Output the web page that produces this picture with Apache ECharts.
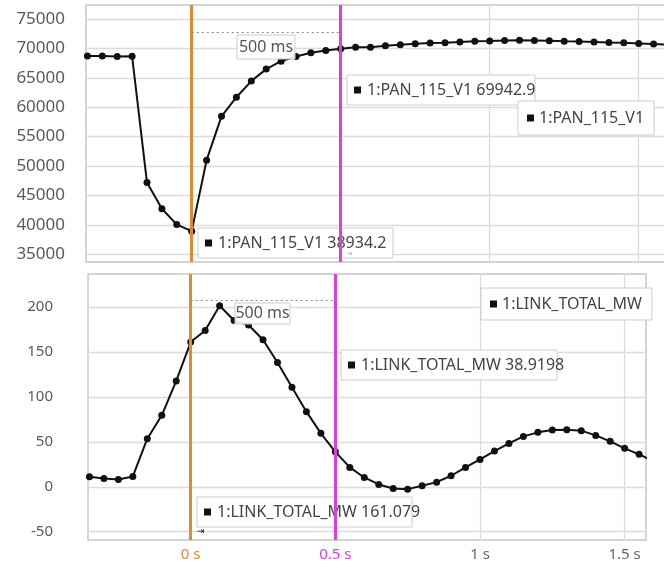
<!DOCTYPE html>
<html>
<head>
<meta charset="utf-8">
<script src="https://cdn.jsdelivr.net/npm/echarts@6/dist/echarts.min.js"></script>
<style>
  html, body { margin: 0; padding: 0; background: #fff; }
  #chart { width: 664px; height: 563px; }
</style>
</head>
<body>
<div id="chart"></div>
<script>
// Sample times (s), one sample every 50 ms
const times = [-0.35, -0.30, -0.25, -0.20, -0.15, -0.10, -0.05, 0.00,
  0.05, 0.10, 0.15, 0.20, 0.25, 0.30, 0.35, 0.40, 0.45, 0.50,
  0.55, 0.60, 0.65, 0.70, 0.75, 0.80, 0.85, 0.90, 0.95, 1.00,
  1.05, 1.10, 1.15, 1.20, 1.25, 1.30, 1.35, 1.40, 1.45, 1.50, 1.55, 1.60];

// 1:PAN_115_V1 voltage
const panValues = [68700, 68700, 68620, 68650, 47200, 42750, 40050, 38934.2,
  51000, 58450, 61700, 64450, 66480, 67820, 68640, 69270, 69660, 69942.9,
  70200, 70200, 70440, 70610, 70780, 70900, 70980, 71100, 71230, 71260,
  71350, 71370, 71360, 71300, 71200, 71170, 71110, 71020, 70950, 70850, 70730, 70620];

// 1:LINK_TOTAL_MW power
const linkValues = [11.2, 9.3, 8.2, 11.5, 53.5, 79.6, 117.8, 161.079,
  174, 201.5, 185, 180, 163.6, 138.3, 110.8, 83.6, 59.5, 38.9198,
  21.6, 10.4, 2.6, -1.9, -2.6, 1.1, 5.2, 12.3, 21.6, 30.5,
  39.8, 48.3, 56.1, 60.6, 63.2, 63.6, 62.5, 57.2, 50.6, 42.8, 36.1, 28.5];

const panName = '1:PAN_115_V1';
const linkName = '1:LINK_TOTAL_MW';

// Tick labels
const timeTicks = [0, 0.5, 1, 1.5];
const panTicks = [35000, 40000, 45000, 50000, 55000, 60000, 65000, 70000, 75000];
const linkTicks = [-50, 0, 50, 100, 150, 200];

// Cursor positions (s) and the level of the delta bracket in each pane
const cursorTimes = [0, 0.5];
const panBracketLevel = 72740;
const linkBracketLevel = 207.4;

const FONT = '"Noto Sans", "Open Sans", sans-serif';
const GRID_LINE = '#dcdcdc';
const BORDER = '#c8c8c8';
const ORANGE = '#E08A33';
const MAGENTA = '#E03CE0';
const INK = '#111';

const chart = echarts.init(document.getElementById('chart'), null, { renderer: 'canvas' });

const idxA = times.indexOf(cursorTimes[0]);
const idxB = times.indexOf(cursorTimes[1]);
const deltaMs = Math.round((cursorTimes[1] - cursorTimes[0]) * 1000) + ' ms';

function cursorMarks(level) {
  return {
    silent: true,
    symbol: ['none', 'none'],
    label: { show: false },
    emphasis: { disabled: true },
    data: [
      { xAxis: cursorTimes[0], lineStyle: { color: ORANGE, width: 3, type: 'solid' } },
      { xAxis: cursorTimes[1], lineStyle: { color: MAGENTA, width: 3, type: 'solid' } },
      [
        { coord: [cursorTimes[0], level], lineStyle: { color: '#8a8a8a', width: 1.2, type: [2, 3] } },
        { coord: [cursorTimes[1], level] }
      ]
    ]
  };
}

// Cursor readout box: sits above the grid but below the cursor lines
function valueBox(x, y, w, h, text) {
  return {
    type: 'group', x: x, y: y, z: 1,
    children: [
      { type: 'rect', z: 1, shape: { x: 0, y: 0, width: w, height: h },
        style: { fill: '#fff', stroke: '#cdcdcd', lineWidth: 1 } },
      { type: 'rect', z: 1, shape: { x: 7, y: h / 2 - 3.5, width: 7, height: 7 },
        style: { fill: INK } },
      { type: 'text', z: 1, x: 20, y: h / 2,
        style: { text: text, fill: '#444', font: '16px ' + FONT, verticalAlign: 'middle' } }
    ]
  };
}

function deltaBox(x, y, w, h) {
  return {
    type: 'group', x: x, y: y, z: 50,
    children: [
      { type: 'rect', z: 50, shape: { x: 0, y: 0, width: w, height: h },
        style: { fill: 'rgba(255,255,255,0.9)', stroke: '#cdcdcd', lineWidth: 1 } },
      { type: 'text', z: 50, x: w / 2, y: h / 2,
        style: { text: deltaMs, fill: '#555', font: '16px ' + FONT, align: 'center', verticalAlign: 'middle' } }
    ]
  };
}

const legendBase = {
  orient: 'horizontal',
  icon: 'rect',
  itemWidth: 7,
  itemHeight: 7,
  backgroundColor: '#fff',
  borderColor: '#cdcdcd',
  borderWidth: 1,
  borderRadius: 0,
  selectedMode: false,
  textStyle: { fontSize: 16, color: '#444', fontFamily: FONT }
};

const timeLabel = {
  customValues: timeTicks,
  margin: 7,
  formatter: function (v) {
    if (v === cursorTimes[0]) return '{o|' + v + ' s}';
    if (v === cursorTimes[1]) return '{m|' + v + ' s}';
    return '{g|' + v + ' s}';
  },
  rich: {
    o: { color: ORANGE, fontSize: 15, fontFamily: FONT },
    m: { color: MAGENTA, fontSize: 15, fontFamily: FONT },
    g: { color: '#666', fontSize: 15, fontFamily: FONT }
  }
};

const plainNumber = function (v) { return String(v); };

const option = {
  animation: false,
  backgroundColor: '#fff',
  textStyle: { fontFamily: FONT },
  grid: [
    { left: 86, top: 5, width: 580, height: 257, show: true, borderColor: BORDER, borderWidth: 1.5, outerBoundsMode: 'none' },
    { left: 88, top: 274, width: 558, height: 266, show: true, borderColor: BORDER, borderWidth: 1.5, outerBoundsMode: 'none' }
  ],
  xAxis: [
    { gridIndex: 0, type: 'value', min: -0.3547, max: 1.5916,
      axisLine: { show: false }, axisTick: { show: false, customValues: timeTicks },
      axisLabel: { show: false, customValues: timeTicks },
      splitLine: { show: true, lineStyle: { color: GRID_LINE, width: 1.3 } } },
    { gridIndex: 1, type: 'value', min: -0.355, max: 1.5738,
      axisLine: { show: false }, axisTick: { show: false, customValues: timeTicks },
      axisLabel: timeLabel,
      splitLine: { show: true, lineStyle: { color: GRID_LINE, width: 1.3 } } }
  ],
  yAxis: [
    { gridIndex: 0, type: 'value', min: 33690, max: 77380,
      axisLine: { show: false }, axisTick: { show: false, customValues: panTicks },
      axisLabel: { customValues: panTicks, formatter: plainNumber, margin: 21, fontSize: 17, color: '#5a5a5a', fontFamily: FONT },
      splitLine: { show: true, lineStyle: { color: GRID_LINE, width: 1.3 } } },
    { gridIndex: 1, type: 'value', min: -59.2, max: 236.8,
      axisLine: { show: false }, axisTick: { show: false, customValues: linkTicks },
      axisLabel: { customValues: linkTicks, formatter: plainNumber, margin: 35, fontSize: 15, color: '#5a5a5a', fontFamily: FONT },
      splitLine: { show: true, lineStyle: { color: GRID_LINE, width: 1.3 } } }
  ],
  legend: [
    Object.assign({}, legendBase, { data: [panName], left: 518, top: 101, padding: [9, 10, 9, 9] }),
    Object.assign({}, legendBase, { data: [linkName], left: 481, top: 288, padding: [8, 10, 8, 9] })
  ],
  series: [
    { type: 'line', name: panName, xAxisIndex: 0, yAxisIndex: 0,
      data: times.map((t, i) => [t, panValues[i]]),
      symbol: 'circle', symbolSize: 7, color: INK,
      lineStyle: { color: INK, width: 2 }, itemStyle: { color: INK },
      emphasis: { disabled: true }, clip: true,
      markLine: cursorMarks(panBracketLevel) },
    { type: 'line', name: linkName, xAxisIndex: 1, yAxisIndex: 1,
      data: times.map((t, i) => [t, linkValues[i]]),
      symbol: 'circle', symbolSize: 7, color: INK,
      lineStyle: { color: INK, width: 2 }, itemStyle: { color: INK },
      emphasis: { disabled: true }, clip: true,
      markLine: cursorMarks(linkBracketLevel) }
  ],
  graphic: [
    valueBox(198, 228, 195, 30, panName + ' ' + panValues[idxA]),
    valueBox(347, 75, 188, 30, panName + ' ' + panValues[idxB]),
    valueBox(341, 350, 216, 30, linkName + ' ' + linkValues[idxB]),
    valueBox(197, 497, 215, 30, linkName + ' ' + linkValues[idxA]),
    deltaBox(237, 35, 58, 24),
    deltaBox(235, 303, 55, 21),
    { type: 'text', x: 197, y: 532, z: 60,
      style: { text: '⇥', fill: '#111', font: '9px "DejaVu Sans"', verticalAlign: 'middle' } },
    { type: 'text', x: 346, y: 254, z: 60,
      style: { text: '⇥', fill: '#bbb', font: '8px "DejaVu Sans"', verticalAlign: 'middle' } }
  ]
};

chart.setOption(option);
</script>
</body>
</html>
